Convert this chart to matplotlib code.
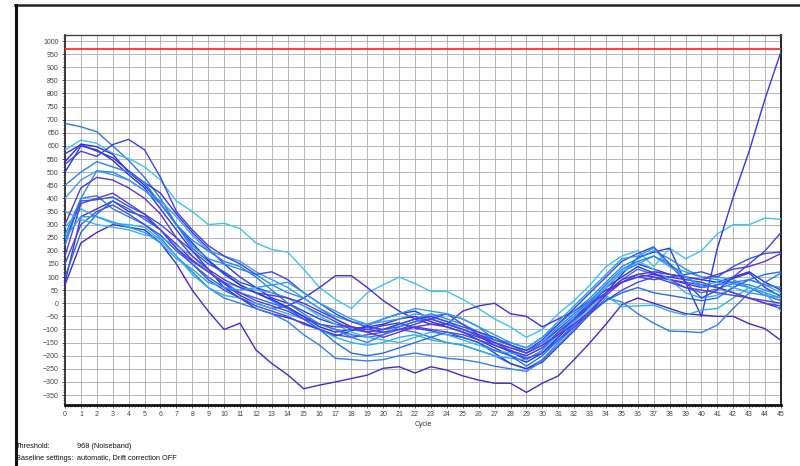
import matplotlib
matplotlib.use("Agg")
import matplotlib.pyplot as plt
from matplotlib.lines import Line2D
from matplotlib.ticker import MultipleLocator
import numpy as np

plt.rcParams['font.family'] = ['Liberation Sans', 'DejaVu Sans']

cycles = list(range(46))
threshold = 968

c1 = [686, 673, 654, 600, 545, 480, 400, 300, 210, 160, 110, 70, 40, 10, -20, -50, -80, -100, -120, -130, -120, -100, -110, -130, -150, -160, -180, -200, -230, -250, -215, -150, -90, -30, 40, 90, 130, 110, 90, 60, 40, 55, 75, 60, 30, 10]
c2 = [585, 622, 610, 572, 552, 520, 470, 390, 350, 300, 305, 285, 230, 205, 195, 130, 60, 15, -20, 40, 70, 100, 75, 45, 45, 15, -20, -60, -90, -130, -100, -40, 10, 70, 140, 180, 200, 140, 210, 170, 200, 265, 300, 300, 325, 320]
c3 = [540, 607, 597, 568, 500, 450, 380, 300, 230, 165, 115, 70, 40, 15, -15, -50, -90, -110, -100, -90, -80, -60, -50, -70, -90, -110, -140, -170, -200, -225, -190, -130, -70, -10, 60, 120, 150, 130, 110, 100, 90, 80, 100, 120, 80, 50]
c4 = [500, 600, 585, 545, 490, 440, 360, 280, 200, 130, 60, 20, -20, -40, -55, -75, -100, -125, -105, -85, -60, -40, -30, -60, -80, -100, -125, -160, -185, -215, -180, -120, -60, 0, 60, 100, 140, 115, 90, 75, 60, 70, 95, 115, 60, 25]
c5 = [570, 605, 580, 555, 505, 460, 420, 340, 270, 210, 150, 100, 60, 20, 0, -30, -60, -80, -90, -100, -85, -75, -95, -105, -120, -130, -150, -190, -230, -250, -225, -165, -105, -40, 40, 110, 175, 195, 210, 80, -50, 210, 405, 580, 780, 960]
c6 = [80, 330, 360, 390, 350, 330, 280, 225, 165, 120, 75, 30, 0, -20, -10, 20, 60, 105, 105, 60, 10, -30, -60, -80, -80, -30, -10, 0, -40, -50, -90, -60, -30, 10, 50, 80, 100, 110, 100, 90, 80, 60, 40, 20, 0, -20]
c7 = [70, 230, 270, 300, 290, 280, 230, 150, 50, -30, -100, -76, -178, -230, -273, -326, -312, -300, -287, -274, -248, -242, -266, -242, -255, -277, -293, -305, -305, -340, -305, -277, -215, -150, -80, -5, 20, 0, -20, -40, -45, -50, -50, -78, -97, -142]
c8 = [260, 400, 410, 360, 330, 300, 250, 180, 120, 60, 20, 0, -20, -40, -70, -120, -160, -210, -215, -220, -215, -200, -190, -200, -210, -215, -225, -240, -250, -260, -220, -160, -100, -40, 20, 5, -40, -76, -106, -108, -112, -83, -20, 40, 80, 115]
c9 = [290, 360, 330, 305, 300, 290, 240, 180, 110, 60, 30, 20, 0, -20, -40, -60, -100, -130, -150, -160, -150, -130, -120, -140, -150, -160, -180, -200, -210, -215, -180, -120, -70, -20, 30, -13, -10, -7, -30, -45, -26, -20, 20, 60, 40, -30]
c10 = [220, 400, 505, 500, 470, 430, 380, 300, 220, 170, 150, 130, 110, 70, 40, 20, -20, -60, -90, -110, -100, -80, -60, -40, -60, -80, -110, -140, -150, -170, -130, -80, -30, 20, 80, 140, 170, 200, 170, 130, 100, 90, 80, 70, 50, 30]
c11 = [400, 470, 505, 490, 470, 430, 390, 330, 260, 200, 180, 160, 120, 90, 60, 20, -20, -50, -70, -80, -70, -60, -40, -50, -70, -100, -120, -150, -170, -190, -160, -100, -50, 0, 60, 120, 150, 180, 140, 120, 100, 100, 90, 60, 40, 20]
c12 = [240, 390, 395, 405, 370, 340, 300, 250, 200, 150, 120, 80, 60, 40, 20, -10, -40, -70, -100, -110, -100, -90, -70, -60, -80, -100, -120, -140, -160, -180, -150, -100, -50, 0, 40, 80, 100, 90, 100, 110, 120, 100, 140, 170, 190, 195]
c13 = [150, 300, 350, 375, 340, 300, 260, 200, 150, 90, 50, 20, -10, -30, -50, -80, -100, -120, -130, -120, -110, -100, -90, -100, -110, -120, -140, -160, -180, -210, -190, -140, -90, -40, 10, 50, 80, 100, 90, 80, 70, 60, 40, 20, 0, -10]
c14 = [350, 320, 300, 290, 280, 260, 250, 220, 180, 120, 80, 60, 50, 40, 20, -10, -50, -80, -110, -130, -140, -150, -130, -110, -120, -140, -160, -180, -190, -200, -170, -110, -50, 10, 60, 120, 160, 130, 90, 40, 20, 30, 60, 90, 70, 40]
c15 = [100, 270, 340, 390, 360, 320, 280, 210, 150, 100, 60, 40, 20, 0, -20, -60, -100, -150, -190, -200, -190, -170, -150, -130, -110, -130, -150, -180, -200, -240, -200, -140, -80, -30, 10, 40, 60, 40, 30, 20, 10, 20, 60, 90, 110, 120]
c16 = [180, 380, 400, 420, 380, 340, 280, 210, 160, 120, 80, 40, 10, -10, -30, -60, -80, -90, -90, -100, -110, -100, -80, -60, -40, -80, -120, -150, -180, -200, -170, -110, -60, -10, 40, 90, 110, 100, 80, 60, 50, 40, 30, 20, 10, 0]
c17 = [450, 500, 540, 520, 500, 460, 380, 300, 240, 200, 160, 140, 100, 50, 0, -40, -80, -100, -130, -150, -120, -90, -70, -50, -40, -60, -90, -140, -160, -190, -150, -90, -40, 10, 70, 130, 160, 180, 150, 100, 60, 70, 80, 90, 70, 60]
c18 = [530, 580, 560, 605, 625, 585, 480, 350, 280, 220, 180, 150, 110, 120, 90, 40, 0, -40, -70, -90, -100, -80, -60, -50, -70, -90, -110, -130, -160, -180, -140, -80, -20, 40, 100, 160, 190, 215, 150, 80, 20, 50, 100, 150, 200, 270]
c19 = [300, 440, 480, 470, 440, 400, 340, 250, 180, 130, 90, 60, 40, 30, 20, 0, -30, -60, -90, -110, -130, -110, -90, -80, -90, -110, -130, -150, -170, -190, -160, -120, -80, -30, 30, 80, 110, 120, 110, 100, 90, 110, 130, 140, 160, 190]
c20 = [250, 330, 330, 310, 290, 270, 230, 170, 130, 80, 60, 50, 60, 70, 80, 40, 0, -30, -60, -80, -60, -40, -20, -30, -40, -60, -90, -120, -150, -170, -130, -70, -10, 50, 110, 170, 180, 210, 140, 100, 70, 80, 60, 40, 30, 20]

series = [c1, c2, c3, c4, c5, c6, c7, c8, c9, c10, c11, c12, c13, c14, c15, c16, c17, c18, c19, c20]
colors = ['#3a6fe8', '#3cc3f0', '#2a2ee0', '#3030e8', '#3336ee', '#4b2bd8', '#4a26d2',
          '#2f7fef', '#29b3ee', '#1f8ff0', '#3c9bf0', '#2d55e6', '#4a46e0', '#35b5f5',
          '#1e6ef0', '#5a3ae0', '#2a7ff8', '#4040e8', '#5b33dd', '#27a0f5']

fig = plt.figure(figsize=(8, 4.66), dpi=100)
ax = fig.add_axes([65/800, 1-405/466, 716/800, 370/466])

for s, c in zip(series, colors):
    ax.plot(cycles, s, color=c, lw=1.0, zorder=3)

ax.axhline(threshold, color='#ff3030', lw=1.3, zorder=4)

ax.set_xlim(0, 45)
ax.set_ylim(-388, 1023)
ax.xaxis.set_major_locator(MultipleLocator(1))
ax.xaxis.set_minor_locator(MultipleLocator(0.2))
ax.yaxis.set_minor_locator(MultipleLocator(10))
ax.set_yticks(np.arange(-350, 1001, 50))
ax.grid(True, which='major', color='#b4b4b4', lw=0.7, zorder=0)
ax.tick_params(which='major', length=2.5, width=0.6, labelsize=5, labelcolor='#444444', pad=2, color='#333333')
ax.tick_params(which='minor', length=1.2, width=0.5, color='#555555')

ax.spines['bottom'].set_linewidth(2.0)
ax.spines['bottom'].set_color('#111111')
ax.spines['left'].set_linewidth(1.2)
ax.spines['left'].set_color('#222222')
ax.spines['right'].set_linewidth(1.3)
ax.spines['right'].set_color('#111111')
ax.spines['top'].set_linewidth(1.0)
ax.spines['top'].set_color('#444444')

ax.set_xlabel('Cycle', fontsize=5, color='#333333', labelpad=2)

# outer frame lines (top and left)
fig.add_artist(Line2D([15/800, 1.0], [1-4.5/466, 1-4.5/466], transform=fig.transFigure, color='#222222', lw=1.8))
fig.add_artist(Line2D([15.5/800, 15.5/800], [0, 1-4.5/466], transform=fig.transFigure, color='#111111', lw=2.2))

fig.text(16/800, 1-447/466, 'Threshold:', fontsize=5.3, va='center', ha='left', color='#111111')
fig.text(77/800, 1-447/466, '968 (Noiseband)', fontsize=5.3, va='center', ha='left', color='#111111')
fig.text(16/800, 1-458/466, 'Baseline settings:', fontsize=5.3, va='center', ha='left', color='#111111')
fig.text(77/800, 1-458/466, 'automatic, Drift correction OFF', fontsize=5.3, va='center', ha='left', color='#111111')

fig.savefig('out.png', dpi=100)
